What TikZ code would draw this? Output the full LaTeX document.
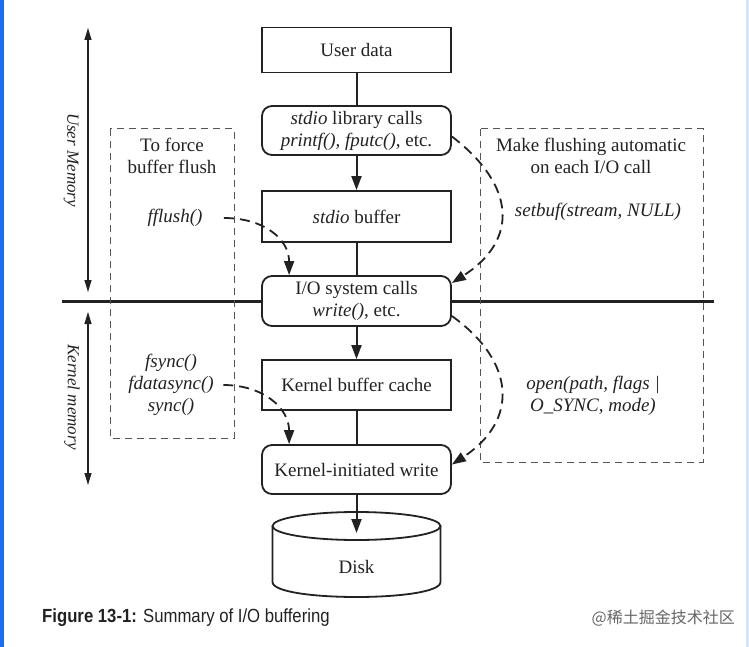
\documentclass[tikz,border=0pt]{standalone}
\usepackage{fontspec}
\setmainfont{Liberation Serif}
\newfontfamily\capfont[FakeStretch=0.88]{Liberation Sans}
\newfontfamily\cjk{Noto Sans CJK SC}
\usetikzlibrary{shapes,arrows,calc,arrows.meta}

\definecolor{ink}{HTML}{222222}
\definecolor{dashgray}{HTML}{555555}
\definecolor{markgray}{HTML}{666666}
\definecolor{stripblue}{HTML}{1A6EF5}
\definecolor{paleblue}{HTML}{D3E5FB}

\tikzset{
    databox/.style={draw=ink, fill=white, line width=1.8pt, minimum width=189pt, inner sep=0pt,
                    align=center, text=ink, font=\fontsize{19}{22}\selectfont},
    callbox/.style={databox, rounded corners=10pt},
    notetext/.style={align=center, text=ink, font=\fontsize{19}{22}\selectfont},
    memtext/.style={text=ink, font=\itshape\fontsize{17}{20}\selectfont},
    flowline/.style={draw=ink, line width=2pt},
    flowarrow/.style={flowline, -{Triangle[length=14pt,width=10pt]}},
    flusharrow/.style={flowarrow, line width=1.8pt, dash pattern=on 10pt off 6pt},
    regionbox/.style={draw=dashgray, line width=1pt, dash pattern=on 7pt off 5pt},
    memarrow/.style={{Triangle[length=12pt,width=7pt]}-{Triangle[length=12pt,width=7pt]}, draw=ink, line width=1.1pt}
}

\begin{document}
\begin{tikzpicture}[x=1pt,y=-1pt]
            \useasboundingbox (0,0) rectangle (749,647);
            \fill[stripblue] (0,0) rectangle (4,647);
            \fill[paleblue] (746,0) rectangle (749,647);

            % user / kernel split
            \draw[ink, line width=3pt] (62,301) -- (714,301);
            \draw[regionbox] (110,129) rectangle (234,438);
            \draw[regionbox] (480,129) rectangle (703,462);

            % disk
            \draw[ink, line width=1.8pt, fill=white] (272.5,526) -- (272.5,582)
                .. controls (272.5,602) and (440.5,602) .. (440.5,582) -- (440.5,526);
            \draw[ink, line width=1.8pt, fill=white] (356.5,526) ellipse [x radius=84, y radius=14];
            \coordinate (disktop) at (356.5,533);
            \draw (356.5,567) node[notetext] (disk) {Disk};

            \draw (356.5,50) node[databox, minimum height=45pt] (userdata) {User data};
            \draw (356.5,130.5) node[callbox, minimum height=49pt] (stdiolib) {\textit{stdio} library calls\\\textit{printf(), fputc()}, etc.};
            \draw (356.5,216.5) node[databox, minimum height=51pt] (stdiobuf) {\textit{stdio} buffer};
            \draw (356.5,301) node[callbox, minimum height=50pt] (iosys) {I/O system calls\\\textit{write()}, etc.};
            \draw (356.5,385) node[databox, minimum height=50pt] (kcache) {Kernel buffer cache};
            \draw (356.5,469.5) node[callbox, minimum height=49pt] (kwrite) {Kernel-initiated write};

            \path (userdata) edge[flowline] (stdiolib)
                      (stdiolib) edge[flowarrow] (stdiobuf)
                      (stdiobuf) edge[flowline] (iosys)
                      (iosys) edge[flowarrow] (kcache)
                      (kcache) edge[flowline] (kwrite)
                      (kwrite) edge[flowarrow] (disktop);

            % side notes
            \draw (172,155.5) node[notetext] (forceflush) {To force\\buffer flush};
            \draw (175,218) node[notetext] (fflush) {\textit{fflush()}};
            \draw (171,385) node[notetext] (syncs) {\textit{fsync()}\\\textit{fdatasync()}\\\textit{sync()}};
            \draw (591,155.5) node[notetext] (autoflush) {Make flushing automatic\\on each I/O call};
            \draw (598,212) node[notetext] (setbuf) {\textit{setbuf(stream, NULL)}};
            \draw (593,396) node[notetext] (osync) {\textit{open(path, flags |}\\\textit{O\_SYNC, mode)}};

            \draw[flusharrow] ([xshift=18pt]fflush.east) .. controls +(40,0) and +(0,-36) .. ([xshift=28pt]iosys.north west);
            \draw[flusharrow] ([xshift=6pt]syncs.east) .. controls +(40,0) and +(0,-36) .. ([xshift=28pt]kwrite.north west);
            \draw[flusharrow] ([yshift=-6pt]stdiolib.east) .. controls +(64,49) and +(67,-43) .. ([yshift=18pt]iosys.east);
            \draw[flusharrow] ([yshift=-15pt]iosys.east) .. controls +(64,46) and +(67,-44) .. ([yshift=5pt]kwrite.east);

            % memory ranges
            \coordinate (umtop) at (88,28);
            \coordinate (umbot) at (88,292);
            \coordinate (kmtop) at (88,312);
            \coordinate (kmbot) at (88,485);
            \draw[memarrow] (umtop) -- (umbot);
            \draw[memarrow] (kmtop) -- (kmbot);
            \draw (71,160) node[memtext, rotate=-90] (usermem) {User Memory};
            \draw (72,397) node[memtext, rotate=-90] (kernelmem) {Kernel memory};

            \draw (42,618) node[anchor=west, inner sep=0pt, text=ink, font=\capfont\fontsize{19}{22}\selectfont] (caption) {\textbf{Figure 13-1:} Summary of I/O buffering};
            \draw (735,618) node[anchor=east, inner sep=0pt, text=markgray, font=\cjk\fontsize{16}{19}\selectfont] (mark) {@稀土掘金技术社区};
        \end{tikzpicture}
\end{document}
